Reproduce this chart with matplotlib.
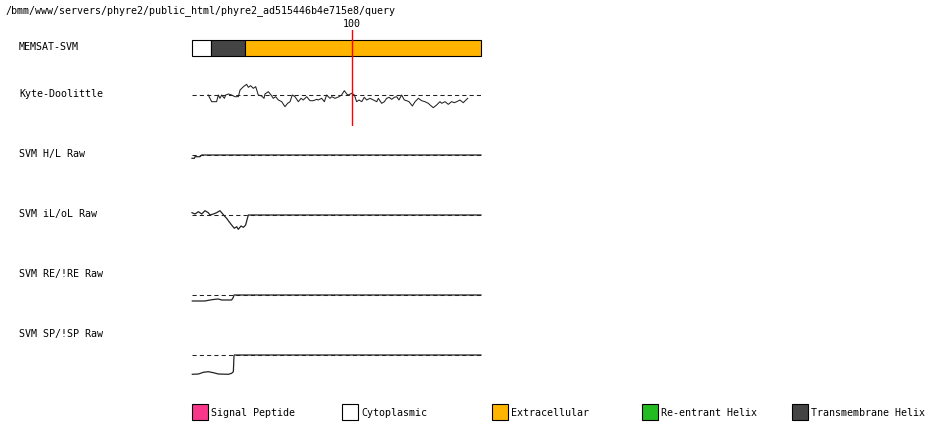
import matplotlib
matplotlib.use("Agg")
import matplotlib.pyplot as plt
from matplotlib.patches import Rectangle

W, H = 950, 435
FONT = "DejaVu Sans Mono"
FS = 7.2
LINE = "#222222"

title = "/bmm/www/servers/phyre2/public_html/phyre2_ad515446b4e715e8/query"
seq_len = 181
marker_pos = 100

track_names = ["MEMSAT-SVM", "Kyte-Doolittle", "SVM H/L Raw",
               "SVM iL/oL Raw", "SVM RE/!RE Raw", "SVM SP/!SP Raw"]

# MEMSAT-SVM topology
topo_start = [0, 12, 33]
topo_end = [12, 33, 181]
topo_kind = ["Cytoplasmic", "Transmembrane Helix", "Extracellular"]

legend_names = ["Signal Peptide", "Cytoplasmic", "Extracellular",
                "Re-entrant Helix", "Transmembrane Helix"]
legend_colors = ["#f8368a", "#ffffff", "#ffb400", "#22bb22", "#444444"]

# Kyte-Doolittle hydropathy
kd_pos = [10.2, 12.3, 15.4, 16.5, 17.5, 18.6, 20.3, 21.1, 22.8, 24.8, 26.9, 29.0,
          30.1, 32.2, 34.2, 35.3, 36.7, 38.4, 39.9, 41.5, 43.6, 45.1, 45.7, 47.8,
          49.5, 50.9, 52.4, 54.1, 56.2, 58.2, 59.9, 61.4, 62.8, 64.5, 66.6, 68.3,
          69.7, 71.8, 73.9, 76.0, 78.1, 79.1, 81.2, 82.9, 84.3, 86.4, 87.5, 89.6,
          92.1, 93.7, 95.4, 96.9, 97.9, 100.0, 101.7, 103.1, 104.6, 106.3, 107.9,
          109.4, 111.5, 113.6, 115.7, 116.7, 118.8, 120.5, 121.9, 123.4, 125.1,
          126.7, 128.2, 129.6, 131.3, 133.0, 134.4, 135.9, 138.0, 139.7, 141.8,
          143.8, 145.9, 148.0, 149.1, 151.1, 153.2, 155.3, 156.4, 158.5, 160.5,
          162.6, 164.3, 165.8, 167.8, 169.9, 172.0, 172.7]
kd_val = [0, -1.67, -1.67, 0, -0.83, 0, -0.83, 0, 0.25, 0, -0.42, -0.42,
          1.25, 2.08, 2.67, 1.92, 2.33, 1.67, 2.08, 0, -0.25, -0.83, 0.25, 0.83,
          0, -0.83, -0.42, -1.25, -1.67, -2.92, -2.08, -1.67, 0, -0.42, -1.67, -0.83,
          -1.25, -0.42, -1.42, -1.42, -1.08, -1.25, -0.83, -1.67, 0, -0.83, -0.42, -0.83,
          -0.42, 0, 1.08, 0.25, 0, 0.42, 0, -1.67, -1.25, -1.67, -0.58,
          -1.25, -0.83, -1.25, -1.67, -0.83, -2.08, -1.67, -0.83, -0.58, -1.08,
          -0.58, -0.42, -1.25, 0, -1.25, -1.42, -1.67, -2.75, -1.67, -0.83,
          -1.42, -1.67, -2.08, -2.5, -3.17, -2.5, -1.67, -2.08, -1.67, -2.33,
          -1.67, -1.92, -1.67, -1.25, -1.92, -1.08, -0.83]

# SVM raw scores
hl_pos = [0, 1.5, 1.9, 5.0, 6.1, 181]
hl_val = [-0.33, -0.33, -0.17, -0.17, 0, 0]

il_pos = [0, 1.9, 4.0, 6.1, 8.1, 10.2, 11.3, 13.4, 15.4, 17.5, 18.6, 20.3, 21.7,
          23.2, 24.8, 26.5, 28.0, 29.0, 30.7, 32.2, 33.6, 34.7, 35.3, 181]
il_val = [0.23, 0.1, 0.33, 0.1, 0.43, 0.23, 0, 0.1, 0.23, 0.43, 0.23, -0.1, -0.33,
          -0.67, -1.0, -1.33, -1.17, -1.43, -1.1, -1.23, -1.0, -0.33, 0, 0]

re_pos = [0.2, 8.1, 11.3, 14.4, 16.5, 18.6, 24.8, 25.9, 26.3, 181]
re_val = [-0.6, -0.6, -0.5, -0.43, -0.4, -0.5, -0.5, -0.23, 0, 0]

sp_pos = [0.2, 4.0, 7.1, 10.2, 13.4, 16.5, 22.8, 24.8, 25.9, 26.3, 26.5, 181]
sp_val = [-1.93, -1.9, -1.73, -1.67, -1.77, -1.9, -1.93, -1.83, -1.67, -0.1, 0, 0]

fig = plt.figure(figsize=(W / 100, H / 100), dpi=100)


def px_axes(x, y, w, h):
    y = y + 1
    ax = fig.add_axes([x / W, 1 - (y + h) / H, w / W, h / H])
    ax.set_xlim(0, seq_len)
    ax.axis("off")
    ax.patch.set_alpha(0)
    return ax


def label(x, y, s, **kw):
    fig.text(x / W, 1 - y / H, s, va="center", fontsize=FS, family=FONT, **kw)


label(5, 11, title)
for name, y in zip(track_names, [47, 94, 154, 214, 274, 334]):
    label(19, y, name)

# MEMSAT bar
ax = px_axes(192, 40, 289, 16)
ax.set_ylim(0, 1)
kind_color = dict(zip(legend_names, legend_colors))
for s, e, k in zip(topo_start, topo_end, topo_kind):
    ax.barh(0.5, e - s, left=s, height=1, color=kind_color[k],
            edgecolor="black", lw=0.8, clip_on=False)

# Kyte-Doolittle
ax = px_axes(192, 75, 289, 40)
ax.set_ylim(-5, 5)
ax.axhline(0, color=LINE, lw=0.75, ls=(0, (4, 3)))
ax.plot(kd_pos, kd_val, color=LINE, lw=0.75)

# SVM tracks
for (pos, val), yb in zip([(hl_pos, hl_val), (il_pos, il_val),
                           (re_pos, re_val), (sp_pos, sp_val)],
                          [155, 215, 295, 355]):
    ax = px_axes(192, yb - 10, 289, 35)
    ax.set_ylim(-2.5, 1.0)
    ax.axhline(0, color=LINE, lw=0.75, ls=(0, (4, 3)))
    ax.plot(pos, val, color=LINE, lw=0.9, clip_on=False)

# position marker
ax = px_axes(192, 30, 289, 96)
ax.set_ylim(0, 1)
ax.axvline(marker_pos, color="red", lw=1)
ax.annotate(str(marker_pos), xy=(marker_pos, 1), xycoords=("data", "axes fraction"),
            xytext=(0, 1.5), textcoords="offset points", ha="center", va="bottom",
            fontsize=FS, family=FONT, annotation_clip=False)

# legend
for i, (name, c) in enumerate(zip(legend_names, legend_colors)):
    x0 = 192 + 150 * i
    fig.patches.append(Rectangle((x0 / W, 1 - 421 / H), 16 / W, 16 / H,
                                 transform=fig.transFigure, facecolor=c,
                                 edgecolor="black", lw=0.8))
    label(x0 + 19, 413, name)

fig.savefig("out.png", dpi=100)
